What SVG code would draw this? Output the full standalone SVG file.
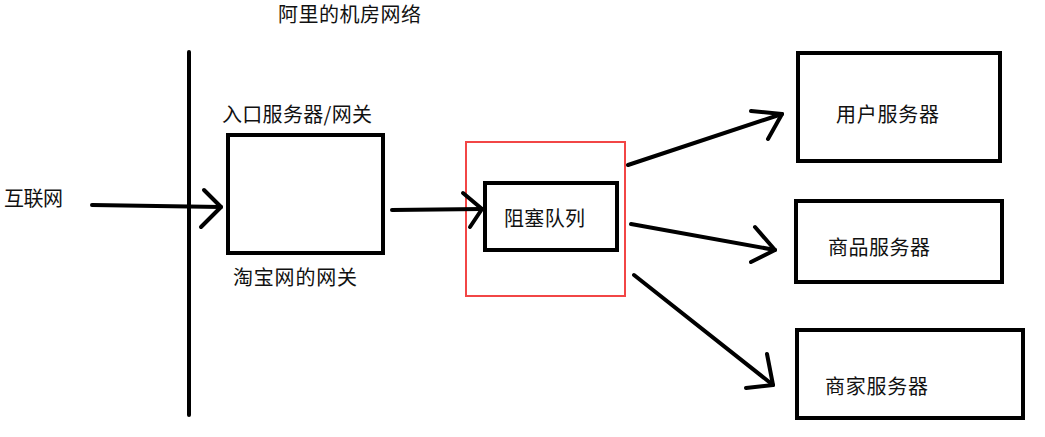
<svg xmlns="http://www.w3.org/2000/svg" width="1045" height="437" viewBox="0 0 1045 437">
  <style>
    .bg { fill: #ffffff; }
    .box { fill: none; stroke: #000; stroke-width: 4; }
    .hl { fill: none; stroke: #f24646; stroke-width: 2; }
    .ln { fill: none; stroke: #000; stroke-width: 4; stroke-linecap: round; stroke-linejoin: round; }
    .t { font-family: "Noto Sans CJK SC", "Noto Sans", sans-serif; font-size: 20px; fill: #111; }
  </style>
  <rect class="bg" x="0" y="0" width="1045" height="437"/>

  <g id="title">
    <text class="t" x="278" y="21.5" textLength="143" lengthAdjust="spacing">阿里的机房网络</text>
  </g>

  <g id="internet">
    <text class="t" x="4" y="206" textLength="59" lengthAdjust="spacing">互联网</text>
  </g>

  <g id="boundary">
    <line class="ln" x1="189" y1="52" x2="189" y2="415" stroke-linecap="butt"/>
  </g>

  <g id="gateway">
    <rect class="box" x="228" y="135" width="155" height="118"/>
    <text class="t" x="222" y="121.5" textLength="150" lengthAdjust="spacing">入口服务器/网关</text>
    <text class="t" x="233" y="285" textLength="124" lengthAdjust="spacing">淘宝网的网关</text>
  </g>

  <g id="queue-highlight">
    <rect class="hl" x="466" y="142" width="159" height="154"/>
  </g>

  <g id="queue">
    <rect class="box" x="485" y="183" width="132" height="67"/>
    <text class="t" x="504" y="225.5" textLength="81" lengthAdjust="spacing">阻塞队列</text>
  </g>

  <g id="user-server">
    <rect class="box" x="798" y="53" width="202" height="108"/>
    <text class="t" x="836" y="121.5" textLength="103" lengthAdjust="spacing">用户服务器</text>
  </g>

  <g id="goods-server">
    <rect class="box" x="796" y="201" width="206" height="81"/>
    <text class="t" x="828" y="254.5" textLength="102" lengthAdjust="spacing">商品服务器</text>
  </g>

  <g id="merchant-server">
    <rect class="box" x="797" y="330" width="226" height="88"/>
    <text class="t" x="825" y="393.5" textLength="103" lengthAdjust="spacing">商家服务器</text>
  </g>

  <g id="connectors">
    <!-- internet -> gateway -->
    <line class="ln" x1="92" y1="205" x2="221" y2="207"/>
    <polyline class="ln" points="204,190 221,207 201,227"/>
    <!-- gateway -> queue -->
    <line class="ln" x1="392" y1="210" x2="482" y2="209"/>
    <polyline class="ln" points="463,193 482,209 470,227"/>
    <!-- queue -> user server -->
    <line class="ln" x1="628" y1="165" x2="782" y2="114"/>
    <polyline class="ln" points="751,111 782,114 768,139"/>
    <!-- queue -> goods server -->
    <line class="ln" x1="631" y1="224" x2="775" y2="250"/>
    <polyline class="ln" points="755,227 775,250 751,262"/>
    <!-- queue -> merchant server -->
    <line class="ln" x1="634" y1="275" x2="773" y2="385"/>
    <polyline class="ln" points="767,354 773,385 746,388"/>
  </g>
</svg>
